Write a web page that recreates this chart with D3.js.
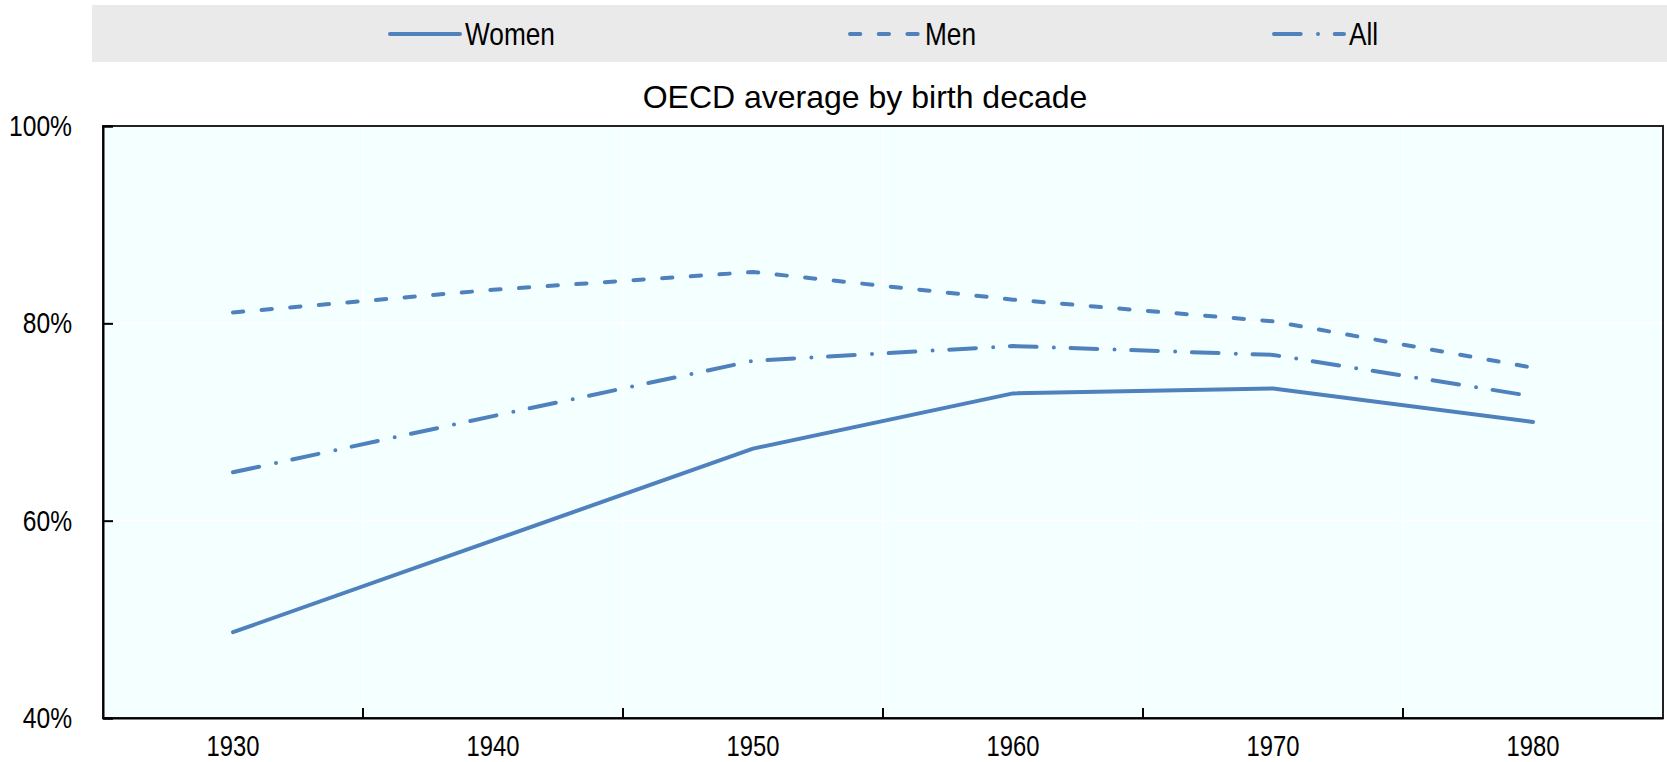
<!DOCTYPE html>
<html>
<head>
<meta charset="utf-8">
<script src="https://cdn.jsdelivr.net/npm/d3@7"></script>
<style>
  body { margin: 0; background: #fff; }
  .narrow { font-family: "Liberation Sans", Arial, sans-serif; }
</style>
</head>
<body>
<div id="chart"></div>
<script>
// Birth decades on the x-axis
var decades = ["1930", "1940", "1950", "1960", "1970", "1980"];

// Series values (%)
var women = [48.7, 58.0, 67.3, 72.9, 73.4, 70.0];
var men   = [81.1, 83.4, 85.2, 82.4, 80.2, 75.5];
var all   = [64.9, 70.6, 76.2, 77.7, 76.8, 72.6];

var yTicks = [40, 60, 80, 100];

var seriesNames = ["Women", "Men", "All"];

// Set up the dimensions for the chart
var W = 1667, H = 762;
var margin = { top: 126, right: 4, bottom: 44, left: 103 },
  width = W - margin.left - margin.right,
  height = H - margin.top - margin.bottom;

var blue = "#4F81BD";
var dashes = {
  Women: null,
  Men: "10.3,18.4",
  All: "26.7,17.3,0,16.7"
};

// squeeze text horizontally so it looks like Arial Narrow
function narrow(sel) {
  sel.each(function () {
    var len = this.getComputedTextLength();
    d3.select(this)
      .attr("textLength", len * 0.82)
      .attr("lengthAdjust", "spacingAndGlyphs");
  });
}

var svg = d3.select("#chart")
  .append("svg")
  .attr("width", W)
  .attr("height", H);

// Legend band at the top
svg.append("rect")
  .attr("x", 92)
  .attr("y", 5)
  .attr("width", W - 92)
  .attr("height", 57)
  .attr("fill", "#EAEAEA");

var legendX = [390, 850, 1274];
seriesNames.forEach(function (name, i) {
  var g = svg.append("g").attr("transform", "translate(" + legendX[i] + ",34)");
  g.append("line")
    .attr("x1", 0).attr("x2", 70)
    .attr("y1", 0).attr("y2", 0)
    .attr("stroke", blue)
    .attr("stroke-width", 4)
    .attr("stroke-linecap", "round")
    .attr("stroke-dasharray", dashes[name]);
  g.append("text")
    .attr("class", "narrow")
    .attr("x", 75)
    .attr("dy", "0.35em")
    .style("font-size", "32px")
    .attr("fill", "#000")
    .text(name)
    .call(narrow);
});

// Title
svg.append("text")
  .attr("x", 865)
  .attr("y", 108)
  .attr("text-anchor", "middle")
  .style("font-family", "'Liberation Sans', Arial, sans-serif")
  .style("font-size", "32px")
  .attr("fill", "#000")
  .text("OECD average by birth decade");

var plot = svg.append("g")
  .attr("transform", "translate(" + margin.left + "," + margin.top + ")");

// Scales
var x = d3.scaleBand()
  .domain(decades)
  .range([0, width])
  .padding(0);

var y = d3.scaleLinear()
  .domain([40, 100])
  .range([height, 0]);

// Plot background
plot.append("rect")
  .attr("width", width)
  .attr("height", height)
  .attr("fill", "#F4FFFF");

// White gridlines
var bounds = decades.slice(0, -1).map(function (d) { return x(d) + x.bandwidth(); });
plot.selectAll(".vgrid")
  .data(bounds)
  .enter().append("line")
  .attr("x1", function (d) { return d; })
  .attr("x2", function (d) { return d; })
  .attr("y1", 0).attr("y2", height)
  .attr("stroke", "#fff")
  .attr("stroke-width", 1.5);

plot.selectAll(".hgrid")
  .data(yTicks.slice(1, -1))
  .enter().append("line")
  .attr("x1", 0).attr("x2", width)
  .attr("y1", function (d) { return y(d); })
  .attr("y2", function (d) { return y(d); })
  .attr("stroke", "#fff")
  .attr("stroke-width", 1.5);

// Frame
plot.append("rect")
  .attr("width", width)
  .attr("height", height)
  .attr("fill", "none")
  .attr("stroke", "#222")
  .attr("stroke-width", 2);

// Y axis
var yAxis = plot.append("g")
  .call(d3.axisLeft(y)
    .tickValues(yTicks)
    .tickSize(-10)
    .tickPadding(31)
    .tickFormat(function (d) { return d + "%"; }));
yAxis.select(".domain").attr("stroke", "#000").attr("stroke-width", 2);
yAxis.selectAll(".tick line").attr("stroke", "#000").attr("stroke-width", 2);
yAxis.selectAll("text")
  .attr("class", "narrow")
  .style("font-size", "30px")
  .attr("fill", "#000")
  .call(narrow);

// X axis labels
var xAxis = plot.append("g")
  .attr("transform", "translate(0," + height + ")")
  .call(d3.axisBottom(x).tickSize(0).tickPadding(17));
xAxis.select(".domain").attr("stroke", "#000").attr("stroke-width", 2);
xAxis.selectAll("text")
  .attr("class", "narrow")
  .style("font-size", "29px")
  .attr("fill", "#000")
  .call(narrow);

// X ticks between categories, pointing inward
xAxis.selectAll(".btick")
  .data(bounds)
  .enter().append("line")
  .attr("x1", function (d) { return d; })
  .attr("x2", function (d) { return d; })
  .attr("y1", 0).attr("y2", -10)
  .attr("stroke", "#000")
  .attr("stroke-width", 2);

// Lines
var line = d3.line()
  .x(function (d, i) { return x(decades[i]) + x.bandwidth() / 2; })
  .y(function (d) { return y(d); });

var seriesData = { Women: women, Men: men, All: all };
seriesNames.forEach(function (name) {
  plot.append("path")
    .datum(seriesData[name])
    .attr("d", line)
    .attr("fill", "none")
    .attr("stroke", blue)
    .attr("stroke-width", 4)
    .attr("stroke-linecap", "round")
    .attr("stroke-linejoin", "round")
    .attr("stroke-dasharray", dashes[name]);
});
</script>
</body>
</html>
